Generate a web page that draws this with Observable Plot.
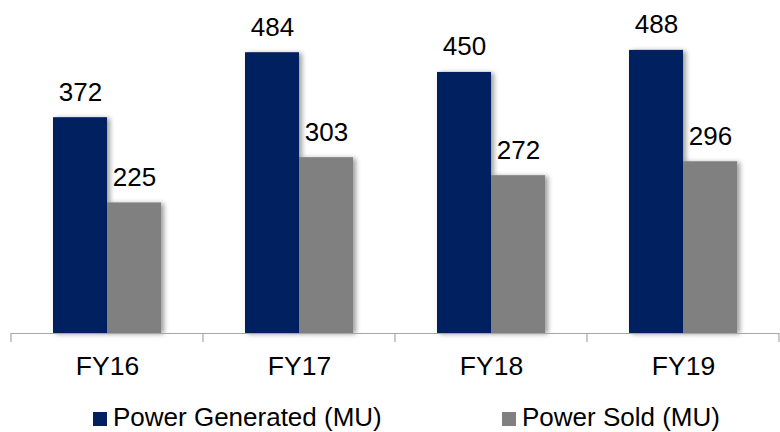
<!DOCTYPE html>
<html>
<head>
<meta charset="utf-8">
<script src="https://cdn.jsdelivr.net/npm/d3@7"></script>
<script src="https://cdn.jsdelivr.net/npm/@observablehq/plot@0.6"></script>
<style>
  html, body { margin: 0; padding: 0; background: #fff; }
  #wrap { position: relative; width: 780px; height: 432px; font-family: "Liberation Sans", Arial, sans-serif; }
  #wrap svg { display: block; }
  #wrap svg g[aria-label="bar"] rect { filter: drop-shadow(3px 1px 2.5px rgba(0,0,0,0.38)); }
  .legend { position: relative; height: 37px; }
  .item { position: absolute; top: 9px; display: flex; align-items: flex-start; font-size: 26px; color: #000; line-height: 26px; white-space: nowrap; }
  .sw { width: 14px; height: 14px; margin-right: 6px; margin-top: 7.5px; flex: none; }
</style>
</head>
<body>
<div id="wrap"></div>
<script>
const years = ["FY16", "FY17", "FY18", "FY19"];
const generated = [372, 484, 450, 488];
const sold = [225, 303, 272, 296];
const seriesNames = ["Power Generated (MU)", "Power Sold (MU)"];
const colors = ["#002060", "#808080"];

const data = years.flatMap((y, i) => [
  {year: y, series: seriesNames[0], value: generated[i]},
  {year: y, series: seriesNames[1], value: sold[i]}
]);

const plot = Plot.plot({
  width: 780,
  height: 395,
  marginLeft: 10,
  marginRight: 0,
  marginTop: 0,
  marginBottom: 62,
  style: {fontFamily: "'Liberation Sans', Arial, sans-serif", fontSize: "26.5px", color: "#000", background: "#fff"},
  fx: {domain: years, padding: 0, label: null, axis: "bottom", tickSize: 0, tickPadding: 23},
  x: {domain: seriesNames, paddingInner: 0, paddingOuter: 0.75, axis: null},
  y: {domain: [0, 574], axis: null},
  color: {domain: seriesNames, range: colors},
  marks: [
    Plot.barY(data, {fx: "year", x: "series", y: "value", fill: "series"}),
    Plot.text(data, {fx: "year", x: "series", y: "value", text: d => String(d.value), dy: -17, lineAnchor: "bottom", fontSize: 26, fill: "#000"}),
    Plot.ruleY([0], {stroke: "#a6a6a6", strokeWidth: 1.2})
  ]
});

// boundary tick marks from the fx band scale
const fx = plot.scale("fx");
const y = plot.scale("y");
const edges = years.map(v => fx.apply(v)).concat([fx.apply(years[years.length - 1]) + fx.bandwidth]);
const y0 = y.apply(0);
const g = d3.select(plot).append("g").attr("aria-label", "boundary ticks");
g.selectAll("line").data(edges).join("line")
  .attr("x1", d => Math.min(d, 779.5)).attr("x2", d => Math.min(d, 779.5))
  .attr("y1", y0).attr("y2", y0 + 9)
  .attr("stroke", "#a6a6a6").attr("stroke-width", 1.2);

const wrap = document.getElementById("wrap");
wrap.appendChild(plot);

const legend = document.createElement("div");
legend.className = "legend";
const lefts = [93, 502];
seriesNames.forEach((name, i) => {
  const it = document.createElement("div");
  it.className = "item";
  it.style.left = lefts[i] + "px";
  const sw = document.createElement("span");
  sw.className = "sw";
  sw.style.background = colors[i];
  const tx = document.createElement("span");
  tx.textContent = name;
  it.appendChild(sw);
  it.appendChild(tx);
  legend.appendChild(it);
});
wrap.appendChild(legend);
</script>
</body>
</html>
